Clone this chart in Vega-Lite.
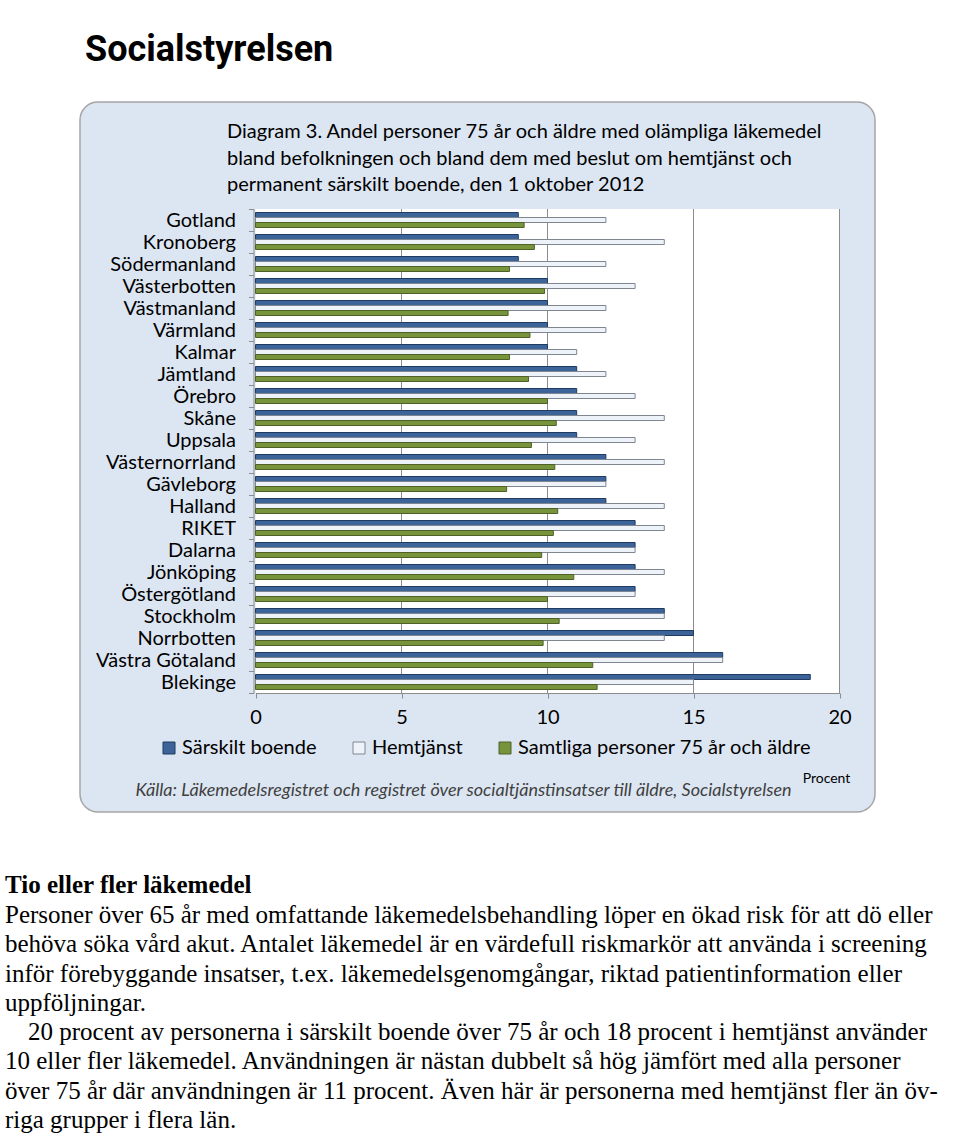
{
  "$schema": "https://vega.github.io/schema/vega-lite/v6.json",
  "padding": {"left": 5, "top": 32, "right": 0, "bottom": 0},
  "bounds": "flush",
  "center": true,
  "spacing": 103,
  "title": {"text": "Socialstyrelsen", "anchor": "start", "dx": 80, "offset": 22, "font": "Roboto", "fontSize": 36, "fontWeight": "bold", "color": "#000000"},
  "config": {"font": "Lato", "view": {"stroke": null}},
  "vconcat": [
    {
      "width": 795,
      "height": 710,
      "view": {"fill": "#dce6f2", "stroke": "#a5a5a5", "strokeWidth": 1.5, "cornerRadius": 18},
      "title": {
        "text": ["Diagram 3. Andel personer 75 år och äldre  med olämpliga läkemedel", "bland befolkningen och bland dem med beslut om hemtjänst och", "permanent särskilt boende, den 1 oktober 2012"],
        "anchor": "start", "dx": 147, "offset": -103, "font": "Lato", "fontSize": 20, "fontWeight": "normal", "lineHeight": 26.5, "color": "#000000"
      },
      "resolve": {"scale": {"y": "independent"}},
      "layer": [
        {
          "data": {"values": [{"frame": "plot"}]},
          "mark": {"type": "rect", "fill": "#ffffff"},
          "encoding": {
            "x": {
              "datum": 0, "type": "quantitative",
              "scale": {"domain": [0, 20], "range": [175.5, 759.5], "nice": false, "zero": true},
              "axis": {
                "values": [0, 5, 10, 15, 20], "offset": -119, "grid": false,
                "domainColor": "#8c8c8c", "tickColor": "#8c8c8c", "tickSize": 5,
                "labelPadding": 9, "labelFont": "Lato", "labelFontSize": 20, "labelColor": "#000000", "labelFlush": false,
                "title": "Procent", "titleX": 746, "titleY": 85, "titleAlign": "center", "titleBaseline": "middle",
                "titleFont": "Lato", "titleFontSize": 14, "titleFontWeight": "normal", "titleColor": "#000000"
              }
            },
            "x2": {"datum": 20},
            "y": {"datum": 0, "type": "quantitative", "scale": {"domain": [0, 1], "range": [107, 591]}, "axis": null},
            "y2": {"datum": 1}
          }
        },
        {
          "data": {"values": [{"g": 5}, {"g": 10}, {"g": 15}, {"g": 20}]},
          "mark": {"type": "rule", "color": "#8c8c8c", "strokeWidth": 1},
          "encoding": {
            "x": {
              "field": "g", "type": "quantitative",
              "axis": {
                "values": [0, 5, 10, 15, 20], "offset": -119, "grid": false,
                "domainColor": "#8c8c8c", "tickColor": "#8c8c8c", "tickSize": 5,
                "labelPadding": 9, "labelFont": "Lato", "labelFontSize": 20, "labelColor": "#000000", "labelFlush": false,
                "title": "Procent", "titleX": 746, "titleY": 85, "titleAlign": "center", "titleBaseline": "middle",
                "titleFont": "Lato", "titleFontSize": 14, "titleFontWeight": "normal", "titleColor": "#000000"
              }
            },
            "y": {"datum": 0, "type": "quantitative", "scale": {"domain": [0, 1], "range": [107, 591]}, "axis": null},
            "y2": {"datum": 1}
          }
        },
        {
          "data": {"values": [
            {"region": "Gotland", "serie": "Särskilt boende", "value": 9},
            {"region": "Gotland", "serie": "Hemtjänst", "value": 12},
            {"region": "Gotland", "serie": "Samtliga personer 75 år och äldre", "value": 9.2},
            {"region": "Kronoberg", "serie": "Särskilt boende", "value": 9},
            {"region": "Kronoberg", "serie": "Hemtjänst", "value": 14},
            {"region": "Kronoberg", "serie": "Samtliga personer 75 år och äldre", "value": 9.55},
            {"region": "Södermanland", "serie": "Särskilt boende", "value": 9},
            {"region": "Södermanland", "serie": "Hemtjänst", "value": 12},
            {"region": "Södermanland", "serie": "Samtliga personer 75 år och äldre", "value": 8.7},
            {"region": "Västerbotten", "serie": "Särskilt boende", "value": 10},
            {"region": "Västerbotten", "serie": "Hemtjänst", "value": 13},
            {"region": "Västerbotten", "serie": "Samtliga personer 75 år och äldre", "value": 9.9},
            {"region": "Västmanland", "serie": "Särskilt boende", "value": 10},
            {"region": "Västmanland", "serie": "Hemtjänst", "value": 12},
            {"region": "Västmanland", "serie": "Samtliga personer 75 år och äldre", "value": 8.65},
            {"region": "Värmland", "serie": "Särskilt boende", "value": 10},
            {"region": "Värmland", "serie": "Hemtjänst", "value": 12},
            {"region": "Värmland", "serie": "Samtliga personer 75 år och äldre", "value": 9.4},
            {"region": "Kalmar", "serie": "Särskilt boende", "value": 10},
            {"region": "Kalmar", "serie": "Hemtjänst", "value": 11},
            {"region": "Kalmar", "serie": "Samtliga personer 75 år och äldre", "value": 8.7},
            {"region": "Jämtland", "serie": "Särskilt boende", "value": 11},
            {"region": "Jämtland", "serie": "Hemtjänst", "value": 12},
            {"region": "Jämtland", "serie": "Samtliga personer 75 år och äldre", "value": 9.35},
            {"region": "Örebro", "serie": "Särskilt boende", "value": 11},
            {"region": "Örebro", "serie": "Hemtjänst", "value": 13},
            {"region": "Örebro", "serie": "Samtliga personer 75 år och äldre", "value": 10},
            {"region": "Skåne", "serie": "Särskilt boende", "value": 11},
            {"region": "Skåne", "serie": "Hemtjänst", "value": 14},
            {"region": "Skåne", "serie": "Samtliga personer 75 år och äldre", "value": 10.3},
            {"region": "Uppsala", "serie": "Särskilt boende", "value": 11},
            {"region": "Uppsala", "serie": "Hemtjänst", "value": 13},
            {"region": "Uppsala", "serie": "Samtliga personer 75 år och äldre", "value": 9.45},
            {"region": "Västernorrland", "serie": "Särskilt boende", "value": 12},
            {"region": "Västernorrland", "serie": "Hemtjänst", "value": 14},
            {"region": "Västernorrland", "serie": "Samtliga personer 75 år och äldre", "value": 10.25},
            {"region": "Gävleborg", "serie": "Särskilt boende", "value": 12},
            {"region": "Gävleborg", "serie": "Hemtjänst", "value": 12},
            {"region": "Gävleborg", "serie": "Samtliga personer 75 år och äldre", "value": 8.6},
            {"region": "Halland", "serie": "Särskilt boende", "value": 12},
            {"region": "Halland", "serie": "Hemtjänst", "value": 14},
            {"region": "Halland", "serie": "Samtliga personer 75 år och äldre", "value": 10.35},
            {"region": "RIKET", "serie": "Särskilt boende", "value": 13},
            {"region": "RIKET", "serie": "Hemtjänst", "value": 14},
            {"region": "RIKET", "serie": "Samtliga personer 75 år och äldre", "value": 10.2},
            {"region": "Dalarna", "serie": "Särskilt boende", "value": 13},
            {"region": "Dalarna", "serie": "Hemtjänst", "value": 13},
            {"region": "Dalarna", "serie": "Samtliga personer 75 år och äldre", "value": 9.8},
            {"region": "Jönköping", "serie": "Särskilt boende", "value": 13},
            {"region": "Jönköping", "serie": "Hemtjänst", "value": 14},
            {"region": "Jönköping", "serie": "Samtliga personer 75 år och äldre", "value": 10.9},
            {"region": "Östergötland", "serie": "Särskilt boende", "value": 13},
            {"region": "Östergötland", "serie": "Hemtjänst", "value": 13},
            {"region": "Östergötland", "serie": "Samtliga personer 75 år och äldre", "value": 10},
            {"region": "Stockholm", "serie": "Särskilt boende", "value": 14},
            {"region": "Stockholm", "serie": "Hemtjänst", "value": 14},
            {"region": "Stockholm", "serie": "Samtliga personer 75 år och äldre", "value": 10.4},
            {"region": "Norrbotten", "serie": "Särskilt boende", "value": 15},
            {"region": "Norrbotten", "serie": "Hemtjänst", "value": 14},
            {"region": "Norrbotten", "serie": "Samtliga personer 75 år och äldre", "value": 9.85},
            {"region": "Västra Götaland", "serie": "Särskilt boende", "value": 16},
            {"region": "Västra Götaland", "serie": "Hemtjänst", "value": 16},
            {"region": "Västra Götaland", "serie": "Samtliga personer 75 år och äldre", "value": 11.55},
            {"region": "Blekinge", "serie": "Särskilt boende", "value": 19},
            {"region": "Blekinge", "serie": "Hemtjänst", "value": 15},
            {"region": "Blekinge", "serie": "Samtliga personer 75 år och äldre", "value": 11.7}
          ]},
          "mark": {"type": "bar", "strokeWidth": 1},
          "encoding": {
            "x": {
              "field": "value", "type": "quantitative",
              "axis": {
                "values": [0, 5, 10, 15, 20], "offset": -119, "grid": false,
                "domainColor": "#8c8c8c", "tickColor": "#8c8c8c", "tickSize": 5,
                "labelPadding": 9, "labelFont": "Lato", "labelFontSize": 20, "labelColor": "#000000", "labelFlush": false,
                "title": "Procent", "titleX": 746, "titleY": 85, "titleAlign": "center", "titleBaseline": "middle",
                "titleFont": "Lato", "titleFontSize": 14, "titleFontWeight": "normal", "titleColor": "#000000"
              }
            },
            "y": {
              "field": "region", "type": "nominal", "sort": null,
              "scale": {"range": [107, 591], "paddingInner": 0, "paddingOuter": 0},
              "axis": {
                "offset": -173.5, "grid": false, "domainColor": "#8c8c8c", "tickColor": "#8c8c8c", "tickSize": 5,
                "tickBand": "extent", "labelPadding": 13, "labelFont": "Lato", "labelFontSize": 20, "labelColor": "#000000", "labelLimit": 300,
                "title": "Källa: Läkemedelsregistret och registret över socialtjänstinsatser till äldre, Socialstyrelsen",
                "titleAngle": 0, "titleX": 209.5, "titleY": 688, "titleAlign": "center", "titleBaseline": "middle",
                "titleFont": "Lato", "titleFontSize": 18, "titleFontStyle": "italic", "titleFontWeight": "normal", "titleColor": "#404040"
              }
            },
            "yOffset": {"field": "serie", "type": "nominal", "sort": null, "scale": {"paddingInner": 0, "paddingOuter": 0.7}},
            "fill": {
              "field": "serie", "type": "nominal",
              "scale": {"domain": ["Särskilt boende", "Hemtjänst", "Samtliga personer 75 år och äldre"], "range": ["#3c6499", "#eef3fa", "#77933c"]},
              "legend": {
                "orient": "none", "legendX": 154, "legendY": 636, "direction": "horizontal", "title": null,
                "symbolType": "square", "symbolSize": 144, "symbolStrokeColor": "#7f7f7f", "symbolStrokeWidth": 1,
                "labelFont": "Lato", "labelFontSize": 20, "labelColor": "#000000", "columnPadding": 32, "labelOffset": 3, "labelLimit": 400
              }
            },
            "stroke": {
              "field": "serie", "type": "nominal",
              "scale": {"domain": ["Särskilt boende", "Hemtjänst", "Samtliga personer 75 år och äldre"], "range": ["#1f3b63", "#7f8692", "#4e6228"]},
              "legend": null
            }
          }
        }
      ]
    },
    {
      "width": 945,
      "height": 205,
      "view": {"stroke": null},
      "title": {"text": "Tio eller fler läkemedel", "anchor": "start", "offset": 5, "font": "Liberation Serif", "fontSize": 25, "fontWeight": "bold", "color": "#000000"},
      "data": {"values": [
        {"line": 1, "text": "Personer över 65 år med omfattande läkemedelsbehandling löper en ökad risk för att dö eller"},
        {"line": 2, "text": "behöva söka vård akut. Antalet läkemedel är en värdefull riskmarkör att använda i screening"},
        {"line": 3, "text": "inför förebyggande insatser, t.ex. läkemedelsgenomgångar, riktad patientinformation eller"},
        {"line": 4, "text": "uppföljningar."},
        {"line": 5, "text": "20 procent av personerna i särskilt boende över 75 år och 18 procent i hemtjänst använder"},
        {"line": 6, "text": "10 eller fler läkemedel. Användningen är nästan dubbelt så hög jämfört med alla personer"},
        {"line": 7, "text": "över 75 år där användningen är 11 procent. Även här är personerna med hemtjänst fler än öv-"},
        {"line": 8, "text": "riga grupper i flera län."}
      ]},
      "encoding": {
        "x": {"datum": 0, "type": "quantitative", "scale": {"domain": [0, 1]}, "axis": null},
        "y": {"field": "line", "type": "ordinal", "scale": {"type": "point", "padding": 0}, "axis": null},
        "text": {"field": "text"}
      },
      "layer": [
        {
          "transform": [{"filter": "datum.line !== 5"}],
          "mark": {"type": "text", "align": "left", "baseline": "middle", "font": "Liberation Serif", "fontSize": 25, "color": "#000000"}
        },
        {
          "transform": [{"filter": "datum.line === 5"}],
          "mark": {"type": "text", "align": "left", "baseline": "middle", "dx": 23, "font": "Liberation Serif", "fontSize": 25, "color": "#000000"}
        }
      ]
    }
  ]
}
